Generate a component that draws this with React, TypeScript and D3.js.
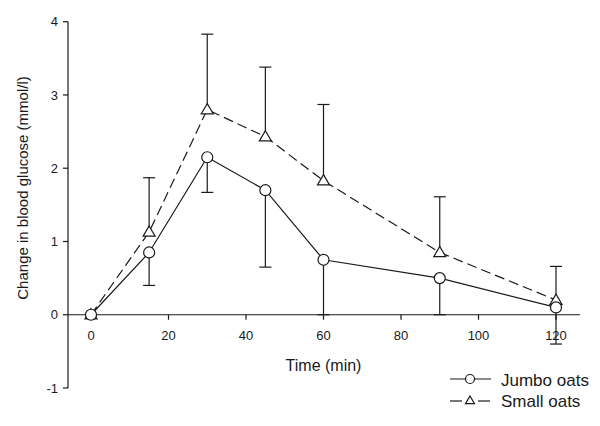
import React from "react";
import * as d3 from "d3";

// time points (min)
const times = [0, 15, 30, 45, 60, 90, 120];

// Jumbo oats: mean change and lower end of error bar
const jumboMean = [0, 0.85, 2.15, 1.7, 0.75, 0.5, 0.1];
const jumboLow = [0, 0.4, 1.67, 0.65, 0.0, 0.0, -0.4];

// Small oats: mean change and upper end of error bar
const smallMean = [0, 1.13, 2.8, 2.43, 1.83, 0.85, 0.2];
const smallHigh = [0, 1.87, 3.83, 3.38, 2.87, 1.61, 0.66];

const xTicks = [0, 20, 40, 60, 80, 100, 120];
const yTicks = [-1, 0, 1, 2, 3, 4];

const W = 600;
const H = 426;
const FONT = "'Liberation Sans', Arial, Helvetica, sans-serif";
const INK = "#1a1a1a";

const App = () => {
  const x = d3.scaleLinear().domain([0, 120]).range([91, 556]);
  const y = d3.scaleLinear().domain([-1, 4]).range([388, 21.7]);

  const axisLeft = 68;
  const axisRight = 580;

  const line = d3
    .line<number>()
    .x((_, i) => x(times[i]))
    .y((d) => y(d));

  const cap = 6;

  // triangle marker centred on cx,cy
  const tri = (cx: number, cy: number, s = 6) =>
    `M${cx},${cy - s} L${cx + s},${cy + s * 0.7} L${cx - s},${cy + s * 0.7} Z`;

  return (
    <svg
      width={W}
      height={H}
      style={{ position: "absolute", left: 0, top: 0, background: "#fff" }}
      fontFamily={FONT}
    >
      {/* y axis */}
      <line x1={axisLeft} x2={axisLeft} y1={y(4)} y2={y(-1)} stroke={INK} strokeWidth={1.2} />
      {yTicks.map((t) => (
        <g key={"y" + t}>
          <line x1={axisLeft - 5} x2={axisLeft} y1={y(t)} y2={y(t)} stroke={INK} strokeWidth={1.2} />
          <text x={58} y={y(t)} dy="0.35em" textAnchor="end" fontSize={13} fill={INK}>
            {t}
          </text>
        </g>
      ))}

      {/* x axis at y = 0 */}
      <line x1={axisLeft} x2={axisRight} y1={y(0)} y2={y(0)} stroke={INK} strokeWidth={1.2} />
      {xTicks.map((t) => (
        <g key={"x" + t}>
          <line x1={x(t)} x2={x(t)} y1={y(0)} y2={y(0) + 5} stroke={INK} strokeWidth={1.2} />
          <text x={x(t)} y={y(0) + 25} textAnchor="middle" fontSize={13} fill={INK}>
            {t}
          </text>
        </g>
      ))}

      {/* axis titles */}
      <text x={323.5} y={371} textAnchor="middle" fontSize={16} fill={INK}>
        Time (min)
      </text>
      <text
        transform={`translate(28,188) rotate(-90)`}
        textAnchor="middle"
        fontSize={15}
        fill={INK}
      >
        Change in blood glucose (mmol/l)
      </text>

      {/* error bars: jumbo downwards, small upwards */}
      {times.map((t, i) =>
        i === 0 ? null : (
          <g key={"e" + t} stroke={INK} strokeWidth={1.2}>
            <line x1={x(t)} x2={x(t)} y1={y(jumboMean[i])} y2={y(jumboLow[i])} />
            <line x1={x(t) - cap} x2={x(t) + cap} y1={y(jumboLow[i])} y2={y(jumboLow[i])} />
            <line x1={x(t)} x2={x(t)} y1={y(smallMean[i])} y2={y(smallHigh[i])} />
            <line x1={x(t) - cap} x2={x(t) + cap} y1={y(smallHigh[i])} y2={y(smallHigh[i])} />
          </g>
        )
      )}

      {/* lines */}
      <path d={line(smallMean) || ""} fill="none" stroke={INK} strokeWidth={1.2} strokeDasharray="10,5" />
      <path d={line(jumboMean) || ""} fill="none" stroke={INK} strokeWidth={1.2} />

      {/* markers */}
      {times.map((t, i) => (
        <path key={"tm" + t} d={tri(x(t), y(smallMean[i]))} fill="#fff" stroke={INK} strokeWidth={1.2} />
      ))}
      {times.map((t, i) => (
        <circle key={"cm" + t} cx={x(t)} cy={y(jumboMean[i])} r={5.5} fill="#fff" stroke={INK} strokeWidth={1.2} />
      ))}

      {/* legend */}
      <g>
        <line x1={450} x2={491} y1={379} y2={379} stroke={INK} strokeWidth={1.2} />
        <circle cx={470} cy={379} r={4.5} fill="#fff" stroke={INK} strokeWidth={1.2} />
        <text x={501} y={380} dy="0.35em" fontSize={17} fill={INK}>
          Jumbo oats
        </text>
        <line x1={450} x2={462} y1={401} y2={401} stroke={INK} strokeWidth={1.2} />
        <line x1={478} x2={490} y1={401} y2={401} stroke={INK} strokeWidth={1.2} />
        <path d={tri(470, 400.5, 4.5)} fill="#fff" stroke={INK} strokeWidth={1.2} />
        <text x={501} y={401} dy="0.35em" fontSize={17} fill={INK}>
          Small oats
        </text>
      </g>
    </svg>
  );
};

export default App;
